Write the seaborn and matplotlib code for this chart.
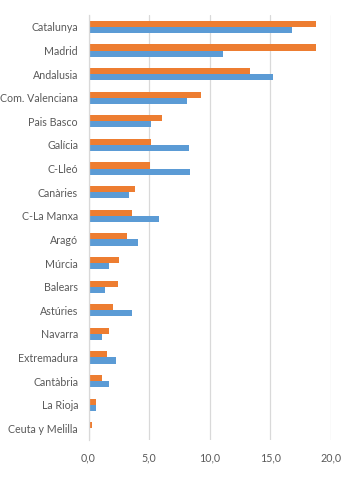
import matplotlib
matplotlib.use("Agg")
import matplotlib.pyplot as plt
import seaborn as sns
import pandas as pd

regions = ["Catalunya", "Madrid", "Andalusia", "Com. Valenciana", "Pais Basco",
           "Galícia", "C-Lleó", "Canàries", "C-La Manxa", "Aragó", "Múrcia",
           "Balears", "Astúries", "Navarra", "Extremadura", "Cantàbria",
           "La Rioja", "Ceuta y Melilla"]
serie_orange = [18.8, 18.8, 13.35, 9.3, 6.05, 5.15, 5.05, 3.8, 3.55, 3.2, 2.5,
                2.45, 2.0, 1.65, 1.55, 1.1, 0.65, 0.25]
serie_blue = [16.8, 11.1, 15.25, 8.15, 5.15, 8.3, 8.4, 3.3, 5.85, 4.1, 1.7,
              1.4, 3.6, 1.1, 2.25, 1.7, 0.65, 0.15]
xticks = [0, 5, 10, 15, 20]
xtick_labels = ["0,0", "5,0", "10,0", "15,0", "20,0"]

df = pd.DataFrame({
    "region": regions * 2,
    "valor": serie_orange + serie_blue,
    "serie": ["S2"] * len(regions) + ["S1"] * len(regions),
})

sns.set_theme(style="white")
plt.rcParams["font.family"] = ["Lato", "DejaVu Sans"]

fig = plt.figure(figsize=(3.54, 5.03), dpi=100)
ax = fig.add_axes([0.25, 0.125, 0.685, 0.845])
sns.barplot(data=df, y="region", x="valor", hue="serie", hue_order=["S2", "S1"],
            palette={"S2": "#ED7D31", "S1": "#5B9BD5"}, order=regions,
            orient="h", width=0.52, ax=ax, legend=False, saturation=1,
            linewidth=0)
ax.set_xlim(0, 20)
ax.set_xticks(xticks)
ax.set_xticklabels(xtick_labels)
ax.set_xlabel("")
ax.set_ylabel("")
ax.grid(axis="x", color="#D9D9D9", linewidth=0.9)
ax.set_axisbelow(True)
for s in ["top", "right", "bottom"]:
    ax.spines[s].set_visible(False)
ax.spines["left"].set_color("#D9D9D9")
ax.spines["left"].set_linewidth(0.9)
ax.tick_params(axis="both", length=0, colors="#595959", labelsize=7.7)
ax.tick_params(axis="y", pad=7.5)
ax.tick_params(axis="x", pad=9)
fig.savefig("out.png", dpi=100)
